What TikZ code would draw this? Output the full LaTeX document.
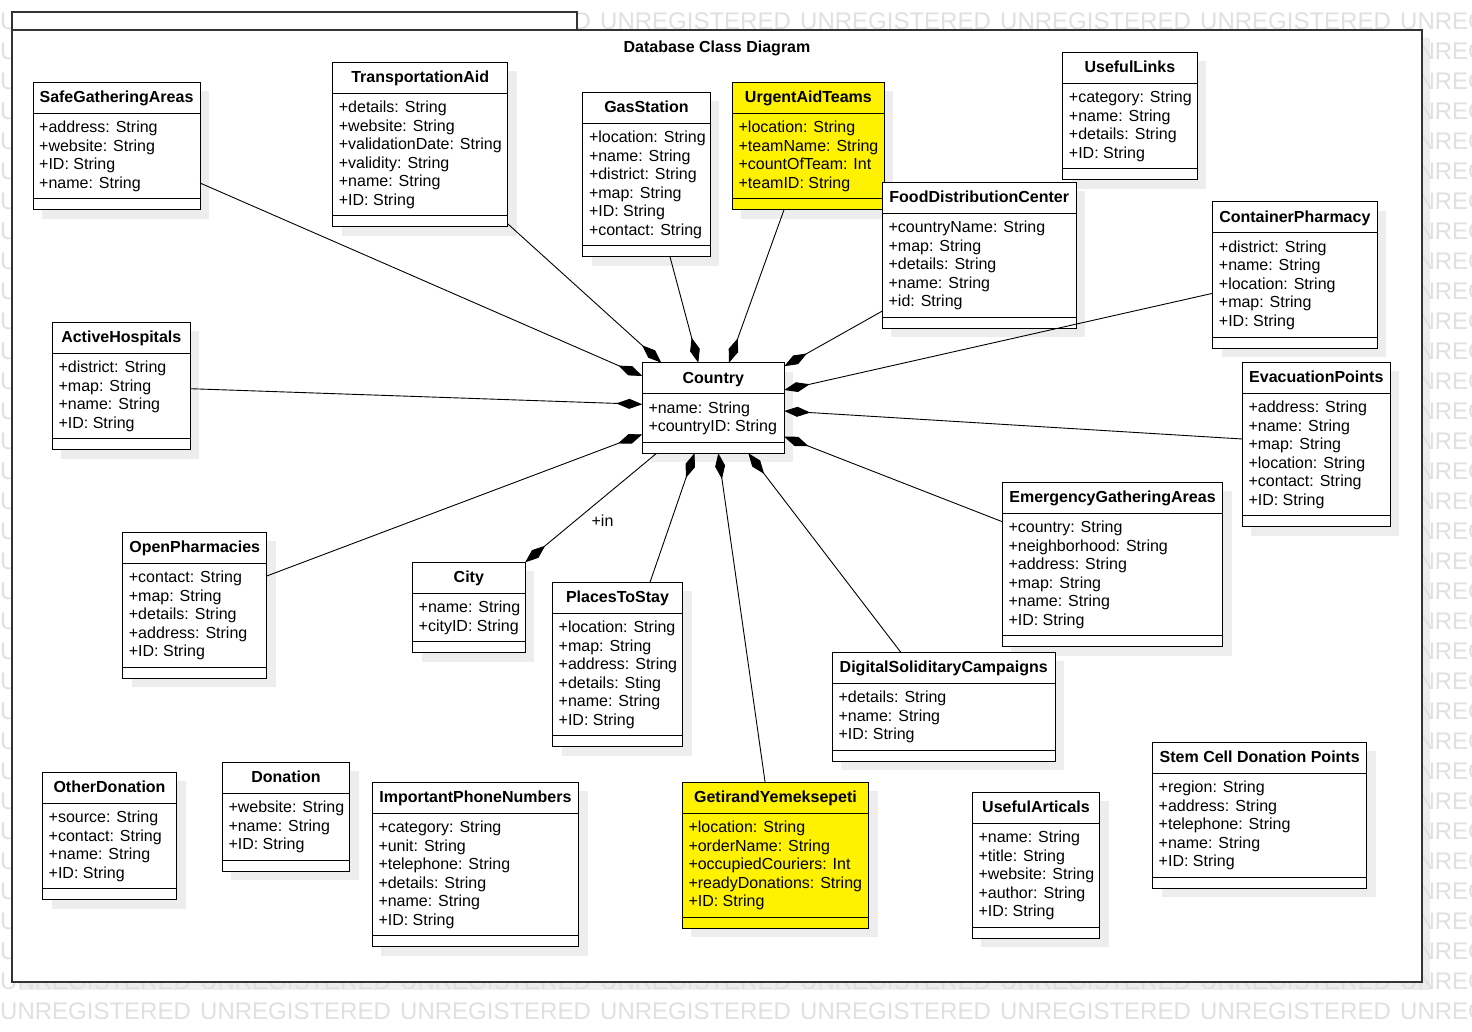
\documentclass[tikz,border=0pt]{standalone}
\usepackage{fontspec}
\setmainfont{Liberation Sans}
\usetikzlibrary{arrows.meta,calc}
\tikzset{
  classbox/.style={draw=black, line width=1pt, inner sep=0pt, outer sep=0pt},
  classline/.style={draw=black, line width=1pt},
  classtitle/.style={font=\bfseries\fontsize{16}{19}\selectfont, anchor=base, inner sep=0pt},
  attr/.style={font=\fontsize{16}{19}\selectfont, anchor=base west, inner sep=0pt},
  shadowc/.style={fill=black!7},
  conn/.style={draw=black, line width=0.9pt},
  comp/.style={conn, -{Diamond[length=26pt,width=10pt]}},
  wm/.style={font=\fontsize{24}{28}\selectfont, text=black!12, anchor=west, inner sep=0pt},
  framec/.style={draw=black!80, line width=1.2pt},
}
% #1 fill, #2 name, #3 left, #4 top, #5 width, #6 number of attributes, #7 title, #8 attributes
\newcommand{\umlclass}[8][white]{%
  \pgfmathsetmacro{\clsH}{53.5+18.5*#6}%
  \pgfmathsetmacro{\clsHa}{42.5+18.5*#6}%
  \fill[shadowc] (#3+9,#4+9) rectangle ++(#5,\clsH);
  \node[classbox, fill=#1, minimum width=#5pt, minimum height=\clsH pt, anchor=north west] (#2) at (#3,#4) {};
  \draw[classline] ($(#2.north west)+(0,31)$) -- ($(#2.north east)+(0,31)$);
  \draw[classline] ($(#2.north west)+(0,\clsHa)$) -- ($(#2.north east)+(0,\clsHa)$);
  \node[classtitle] (#2-title) at ($(#2.north)+(0,20.5)$) {#7};
  \foreach \attrtext [count=\i from 0] in {#8} {
    \node[attr] (#2-a\i) at ($(#2.north west)+(6,50.5+18.5*\i)$) {\attrtext};
  }
}
\begin{document}
\begin{tikzpicture}[x=1pt,y=-1pt]
\useasboundingbox (0,0) rectangle (1472,1032);
\clip (0,0) rectangle (1472,1032);
\fill[white] (0,0) rectangle (1472,1032);
% frame shadow
\fill[black!7] (20,38) rectangle (1430,990);
% watermark (only the parts that show)
\foreach \r in {0,...,31}{
  \node[wm] (wmL-\r) at (0,21.5+30*\r) {U};
}
\foreach \r in {1,...,31}{
  \node[wm] (wmR-\r) at (1417.3,21.5+30*\r) {NREG};
}
\node[wm] (wmT-d) at (573.4,21.5) {D};
\foreach \c in {3,...,7}{
  \node[wm] (wmT-\c) at (200*\c,21.5) {UNREGISTERED};
}
\foreach \r in {32,33}{
  \foreach \c in {0,...,7}{
    \node[wm] (wmB-\r-\c) at (200*\c,21.5+30*\r) {UNREGISTERED};
  }
}
% package frame
\draw[framec, fill=white] (12,12) rectangle (577,30);
\draw[framec, fill=white] (12,30) rectangle (1422,982);
\node[classtitle] (dtitle) at (717,52.5) {Database Class Diagram};

% classes
\umlclass{sga}{33}{82.3}{167}{4}{SafeGatheringAreas}{+address: String,+website: String,+ID: String,+name: String}
\umlclass{ta}{332.7}{62.3}{175}{6}{TransportationAid}{+details: String,+website: String,+validationDate: String,+validity: String,+name: String,+ID: String}
\umlclass{gs}{582.8}{92.3}{127.4}{6}{GasStation}{+location: String,+name: String,+district: String,+map: String,+ID: String,+contact: String}
\umlclass[yellow]{uat}{732.4}{82.3}{152}{4}{UrgentAidTeams}{+location: String,+teamName: String,+countOfTeam: Int,+teamID: String}
\umlclass{ul}{1062.7}{52.3}{134.4}{4}{UsefulLinks}{+category: String,+name: String,+details: String,+ID: String}
\umlclass{fdc}{882.4}{182.3}{193.6}{5}{FoodDistributionCenter}{+countryName: String,+map: String,+details: String,+name: String,+id: String}
\umlclass{cp}{1212.7}{202}{164.3}{5}{ContainerPharmacy}{+district: String,+name: String,+location: String,+map: String,+ID: String}
\umlclass{ah}{52.4}{322.3}{137.8}{4}{ActiveHospitals}{+district: String,+map: String,+name: String,+ID: String}
\umlclass{country}{642.3}{362.7}{142}{2}{Country}{+name: String,+countryID: String}
\umlclass{ep}{1242.3}{362.3}{148}{6}{EvacuationPoints}{+address: String,+name: String,+map: String,+location: String,+contact: String,+ID: String}
\umlclass{op}{122.7}{532.3}{144}{5}{OpenPharmacies}{+contact: String,+map: String,+details: String,+address: String,+ID: String}
\umlclass{city}{412.5}{562.3}{112.7}{2}{City}{+name: String,+cityID: String}
\umlclass{pts}{552.5}{582.3}{130}{6}{PlacesToStay}{+location: String,+map: String,+address: String,+details: Sting,+name: String,+ID: String}
\umlclass{ega}{1002.3}{482.3}{220.4}{6}{EmergencyGatheringAreas}{+country: String,+neighborhood: String,+address: String,+map: String,+name: String,+ID: String}
\umlclass{dsc}{832.4}{652.3}{222.7}{3}{DigitalSoliditaryCampaigns}{+details: String,+name: String,+ID: String}
\umlclass{od}{42.5}{772.3}{134}{4}{OtherDonation}{+source: String,+contact: String,+name: String,+ID: String}
\umlclass{don}{222.3}{762.3}{127.4}{3}{Donation}{+website: String,+name: String,+ID: String}
\umlclass{ipn}{372.3}{782.3}{206.3}{6}{ImportantPhoneNumbers}{+category: String,+unit: String,+telephone: String,+details: String,+name: String,+ID: String}
\umlclass[yellow]{gy}{682.3}{782.3}{186.4}{5}{GetirandYemeksepeti}{+location: String,+orderName: String,+occupiedCouriers: Int,+readyDonations: String,+ID: String}
\umlclass{ua}{972.3}{792.3}{127.4}{5}{UsefulArticals}{+name: String,+title: String,+website: String,+author: String,+ID: String}
\umlclass{scdp}{1152.5}{742.3}{214.4}{5}{Stem Cell Donation Points}{+region: String,+address: String,+telephone: String,+name: String,+ID: String}

% connectors
\draw[comp] ($(sga.north east)+(0,100.7)$) -- ($(country.north west)+(0,13.3)$);
\draw[comp] ($(ta.south east)+(0,-3)$) -- ($(country.north west)+(19,0)$);
\draw[comp] ($(gs.south west)+(87.2,0)$) -- ($(country.north west)+(56,0)$);
\draw[comp] ($(uat.south west)+(51.6,0)$) -- ($(country.north west)+(86.7,0)$);
\draw[comp] ($(fdc.north west)+(0,128.7)$) -- ($(country.north east)+(0,3.5)$);
\draw[comp] ($(cp.north west)+(0,91.3)$) -- ($(country.north east)+(0,27.3)$);
\draw[comp] ($(ep.north west)+(0,76.7)$) -- ($(country.north east)+(0,48.3)$);
\draw[comp] ($(ega.north west)+(0,39.4)$) -- ($(country.north east)+(0,74)$);
\draw[comp] ($(dsc.north west)+(68.4,0)$) -- ($(country.south west)+(106,0)$);
\draw[comp] ($(gy.north west)+(82.8,0)$) -- ($(country.south west)+(76,0)$);
\draw[comp] ($(pts.north west)+(97.5,0)$) -- ($(country.south west)+(52.2,0)$);
\draw[comp] ($(country.south west)+(14.4,0)$) -- (city.north east);
\draw[comp] ($(op.north east)+(0,43.7)$) -- ($(country.north west)+(0,71.6)$);
\draw[comp] ($(ah.north east)+(0,66.4)$) -- ($(country.north west)+(0,41.6)$);
\node[attr, anchor=base] (inlabel) at (602.5,526.5) {+in};
\end{tikzpicture}
\end{document}
